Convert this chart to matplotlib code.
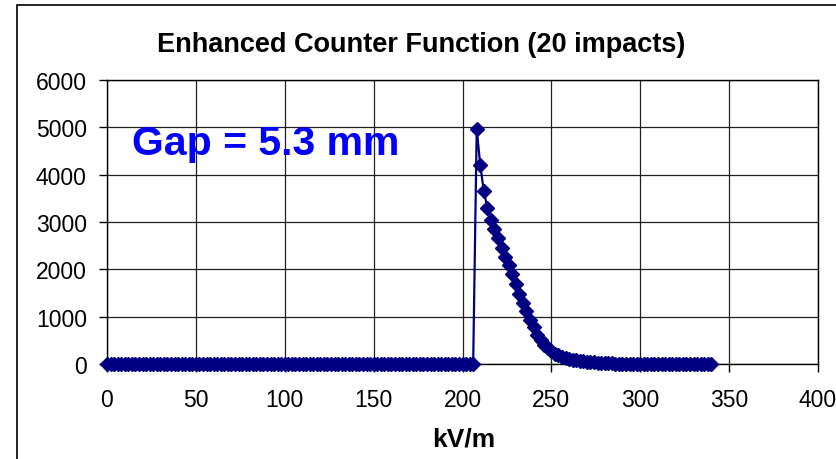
import matplotlib
matplotlib.use("Agg")
import matplotlib.pyplot as plt
from matplotlib.patches import Rectangle
import numpy as np

# field values (kV/m), counts
x_zero_before = list(range(0, 207, 2))
x_pulse = list(range(208, 342, 2))
pulse_counts = [4970, 4200, 3650, 3300, 3050, 2850, 2660, 2450, 2260, 2090,
                1910, 1700, 1480, 1280, 1110, 940, 780, 620, 500, 400,
                330, 270, 220, 185, 155, 130, 110, 95, 80, 70,
                60, 50, 42, 35, 30, 25, 20, 16, 13, 10,
                8, 6, 5, 4, 3, 2, 2, 1, 1, 0]
pulse_counts = pulse_counts + [0] * (len(x_pulse) - len(pulse_counts))

kv = np.array(x_zero_before + x_pulse)
counts = np.array([0] * len(x_zero_before) + pulse_counts)

title = "Enhanced Counter Function (20 impacts)"
note = "Gap = 5.3 mm"

plt.rcParams['font.family'] = ['Liberation Sans', 'DejaVu Sans']

fig = plt.figure(figsize=(8.37, 4.6), dpi=100)
ax = fig.add_axes([107/837, 1 - 365/460, (818 - 107)/837, (365 - 81)/460])

# outer chart frame
fig.patches.append(Rectangle((17/837, -0.1), 1.2, 1 - 6/460 + 0.1,
                             transform=fig.transFigure, fill=False,
                             edgecolor='black', linewidth=1.2))

ax.plot(kv, counts, color='#000080', linewidth=1.6, marker='D',
        markersize=7, markerfacecolor='#000080', markeredgecolor='#000080',
        clip_on=False, zorder=3)

ax.set_xlim(0, 400)
ax.set_ylim(0, 6000)
ax.set_xticks(range(0, 401, 50))
ax.set_yticks(range(0, 6001, 1000))
ax.grid(True, color='#202020', linewidth=0.9)
for s in ax.spines.values():
    s.set_color('black')
    s.set_linewidth(1.0)
ax.tick_params(axis='both', labelsize=16.5, direction='out', length=6,
               width=1.0, color='black')
ax.tick_params(axis='y', pad=8.5)
ax.tick_params(axis='x', pad=11.5)

fig.text(464/837, 1 - 447/460, "kV/m", ha='center', va='baseline',
         fontsize=19, fontweight='bold')
fig.text(0.503, 1 - 52/460, title, ha='center', va='baseline',
         fontsize=19.5, fontweight='bold')
ax.text(14, 4440, note, color='#0000FF', fontsize=29.5, fontweight='bold',
        ha='left', va='baseline')

fig.savefig("out.png", dpi=100)
